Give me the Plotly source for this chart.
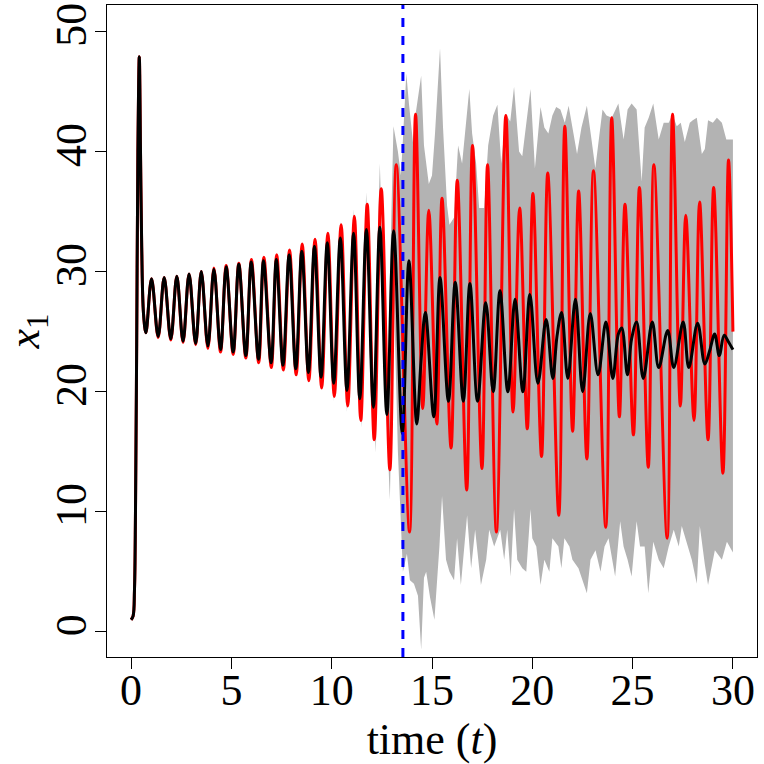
import plotly.graph_objects as go

# switch point (blue dashed line)
change_t = 13.55

# black line: peaks / troughs
black_t = [0.0, 0.1, 0.17, 0.22, 0.28, 0.34, 0.41, 0.47, 0.53, 0.62, 0.74,
           1.02, 1.35, 1.65, 1.98, 2.28, 2.59, 2.89, 3.22, 3.5, 3.83, 4.13, 4.46,
           4.74, 5.09, 5.37, 5.72, 5.99, 6.35, 6.6, 6.98, 7.24, 7.57, 7.88, 8.21,
           8.51, 8.84, 9.14, 9.47, 9.78, 10.1, 10.43, 10.76, 11.09, 11.4, 11.73,
           12.08, 12.4, 12.75, 13.09, 13.52, 13.85, 14.24, 14.45, 14.67, 15.09,
           15.4, 15.82, 16.16, 16.56, 16.89, 17.27, 17.68, 18.05, 18.39, 18.78,
           19.14, 19.53, 19.88, 20.28, 20.69, 21.02, 21.23, 21.46, 21.77, 22.15,
           22.51, 22.89, 23.28, 23.67, 24.01, 24.29, 24.46, 24.74, 24.95, 25.2,
           25.53, 25.98, 26.3, 26.75, 27.05, 27.52, 27.8, 28.24, 28.6, 28.84,
           29.09, 29.32, 29.56, 29.76, 30.0]
black_v = [1.0, 1.3, 3.5, 10, 24, 40, 47.9, 40, 32, 26.5, 24.9,
           29.4, 24.6, 29.5, 24.4, 29.6, 24.2, 29.8, 24.0, 30.0, 23.8, 30.2, 23.5,
           30.4, 23.3, 30.6, 23.0, 30.8, 22.7, 30.9, 22.4, 31.0, 22.2, 31.4, 21.9,
           31.7, 21.6, 32.1, 21.2, 32.4, 20.7, 32.8, 20.1, 33.2, 19.4, 33.5,
           18.7, 33.7, 18.1, 33.4, 16.5, 30.9, 17.3, 22.5, 26.6, 17.9,
           29.5, 19.2, 29.1, 19.2, 29.0, 19.2, 27.4, 20.0, 28.4, 20.0,
           27.7, 20.0, 28.1, 20.7, 26.0, 21.1, 24.6, 26.6, 21.1, 27.7,
           20.0, 26.5, 21.4, 25.8, 21.1, 24.8, 25.3, 21.4, 24.4, 25.8,
           21.1, 25.8, 22.0, 25.1, 22.0, 25.8, 22.0, 25.7, 22.3, 23.4,
           24.8, 23.0, 24.7, 24.2, 23.5]

# red line
red_t = [0.0, 0.1, 0.17, 0.22, 0.28, 0.34, 0.41, 0.47, 0.53, 0.62, 0.74,
         1.02, 1.35, 1.65, 1.98, 2.28, 2.59, 2.89, 3.22, 3.5, 3.83, 4.13, 4.46,
         4.74, 5.09, 5.37, 5.72, 6.0, 6.36, 6.62, 6.99, 7.26, 7.59, 7.9, 8.23,
         8.53, 8.86, 9.17, 9.5, 9.81, 10.13, 10.47, 10.8, 11.13, 11.45, 11.77,
         12.12, 12.47, 12.9, 13.22, 13.88, 14.18, 14.54, 14.84, 15.24, 15.5,
         15.95, 16.26, 16.73, 17.02, 17.49, 17.77, 18.21, 18.68, 19.04, 19.37,
         19.75, 20.03, 20.46, 20.77, 21.32, 21.62, 22.01, 22.31, 22.72, 23.05,
         23.66, 23.96, 24.34, 24.62, 25.04, 25.34, 25.78, 26.06, 26.72, 26.99,
         27.38, 27.65, 28.06, 28.34, 28.76, 29.04, 29.5, 29.78, 30.0]
red_v = [1.0, 1.3, 3.5, 10, 24, 40, 47.9, 40, 32, 26.5, 24.9,
         29.4, 24.5, 29.5, 24.3, 29.6, 24.1, 29.8, 23.9, 30.0, 23.6, 30.3, 23.3,
         30.5, 23.1, 30.7, 22.8, 31.0, 22.4, 31.2, 22.0, 31.4, 21.8, 31.8, 21.4,
         32.3, 20.9, 32.7, 20.3, 33.2, 19.6, 33.9, 18.8, 34.6, 17.6, 35.6,
         16.0, 36.9, 13.5, 38.9, 8.3, 43.1, 18.6, 35.1, 17.3, 36.1,
         15.3, 37.6, 11.8, 40.5, 13.6, 38.9, 8.3, 43.0, 18.3, 35.3,
         16.9, 36.5, 14.6, 38.2, 9.7, 42.1, 16.7, 36.7, 14.4, 38.4,
         8.7, 42.8, 17.9, 35.6, 16.4, 37.0, 13.7, 38.9, 7.8, 43.1,
         18.8, 34.7, 17.6, 35.8, 16.0, 37.0, 13.2, 39.3, 25.0]

# grey band: upper edge
band_up_t = [9.47, 9.8, 10.1, 10.45, 10.76, 11.1, 11.4, 11.72, 12.08, 12.4, 12.75,
             13.08, 13.3, 13.45, 13.55, 13.72, 13.85, 14.05, 14.2, 14.46, 14.6,
             14.84, 15.0, 15.15, 15.4, 15.55, 15.75, 15.87, 16.1, 16.3, 16.5,
             16.86, 17.0, 17.2, 17.35, 17.6, 17.8, 18.05, 18.26, 18.45, 18.68,
             18.9, 19.09, 19.34, 19.5, 19.91, 20.13, 20.41, 20.6, 20.8, 21.0,
             21.19, 21.4, 21.62, 21.81, 22.0, 22.23, 22.45, 22.72, 22.95, 23.14,
             23.5, 23.7, 23.96, 24.29, 24.55, 24.75, 24.95, 25.2, 25.45, 25.6,
             25.8, 26.03, 26.3, 26.55, 26.8, 26.99, 27.2, 27.4, 27.6, 27.85,
             28.0, 28.2, 28.45, 28.6, 28.76, 29.0, 29.2, 29.45, 29.67, 30.0]
band_up_v = [21.8, 33.3, 21.3, 34.2, 20.6, 35.2, 20.0, 36.6, 19.4, 39.0, 18.8,
             42.1, 40.0, 38.0, 41.0, 46.5, 44.0, 40.8, 43.3, 46.3, 40.5,
             37.3, 38.0, 41.5, 48.6, 42.0, 35.5, 33.9, 34.5, 40.5, 39.0,
             45.2, 41.5, 39.0, 35.3, 35.3, 40.5, 43.0, 43.9, 39.0, 43.1,
             42.5, 45.4, 40.0, 39.6, 45.2, 38.6, 43.7, 42.0, 41.5, 43.0,
             43.7, 43.5, 42.4, 43.8, 42.0, 39.8, 42.0, 43.8, 41.0, 38.6,
             43.5, 43.0, 42.8, 44.0, 41.0, 43.5, 44.0, 43.5, 37.5, 42.0,
             42.8, 44.0, 41.0, 42.4, 42.4, 43.1, 42.1, 42.4, 40.8, 42.4,
             42.6, 42.8, 39.8, 40.2, 42.6, 42.4, 42.8, 42.4, 41.0, 41.0]

# grey band: lower edge
band_lo_t = [9.47, 9.8, 10.1, 10.43, 10.76, 11.09, 11.5, 11.73, 12.2, 12.4, 12.9,
             13.1, 13.3, 13.55, 13.75, 13.9, 14.1, 14.3, 14.46, 14.6, 14.71,
             14.9, 15.12, 15.37, 15.5, 15.7, 15.87, 16.1, 16.25, 16.44, 16.75,
             16.95, 17.15, 17.44, 17.7, 17.85, 18.1, 18.4, 18.6, 18.75, 18.92,
             19.09, 19.25, 19.5, 19.7, 19.91, 20.0, 20.2, 20.41, 20.6, 20.85,
             21.0, 21.3, 21.45, 21.6, 21.85, 22.0, 22.3, 22.72, 22.9, 23.15,
             23.4, 23.6, 23.8, 24.0, 24.13, 24.38, 24.55, 24.75, 24.95, 25.2,
             25.37, 25.6, 25.78, 26.03, 26.3, 26.55, 26.8, 27.05, 27.3, 27.45,
             27.7, 27.95, 28.2, 28.35, 28.6, 28.76, 29.1, 29.45, 29.7, 30.0]
band_lo_v = [20.6, 32.0, 19.2, 32.3, 18.3, 32.4, 17.0, 32.5, 14.9, 32.0, 11.0,
             28.0, 15.0, 5.0, 6.5, 4.3, 4.0, 3.0, -1.5, 4.5, 5.0,
             2.9, 1.0, 7.1, 11.3, 6.0, 5.0, 4.3, 7.8, 3.9, 9.7,
             5.3, 8.5, 3.9, 6.0, 8.5, 7.1, 8.5, 6.0, 8.5, 4.6,
             10.2, 6.0, 5.3, 5.0, 10.2, 7.8, 7.1, 3.9, 6.0, 5.0,
             7.8, 7.1, 5.3, 7.8, 7.1, 6.0, 5.3, 3.2, 6.0, 6.8,
             5.0, 7.1, 7.8, 6.0, 4.6, 9.2, 7.1, 6.0, 4.6, 9.2,
             7.1, 7.1, 3.2, 7.5, 6.0, 5.3, 7.1, 8.5, 7.1, 8.8,
             7.5, 6.0, 4.0, 8.8, 5.6, 3.9, 6.8, 6.0, 7.5, 6.6]

FONT = "Liberation Serif"

fig = go.Figure()
fig.add_trace(go.Scatter(
    x=band_up_t + band_lo_t[::-1], y=band_up_v + band_lo_v[::-1],
    fill="toself", fillcolor="#b3b3b3", line=dict(width=0),
    mode="lines", hoverinfo="skip"))
fig.add_trace(go.Scatter(x=red_t, y=red_v, mode="lines",
                         line=dict(color="#ff0000", width=3, shape="spline", smoothing=1)))
fig.add_trace(go.Scatter(x=black_t, y=black_v, mode="lines",
                         line=dict(color="#000000", width=3, shape="spline", smoothing=1)))
fig.add_vline(x=change_t, line=dict(color="#0000ff", width=3, dash="dash"))

axis_common = dict(showline=True, mirror=True, linecolor="black", linewidth=1,
                   showgrid=False, zeroline=False, ticks="outside", ticklen=11,
                   tickcolor="black", automargin=False,
                   tickfont=dict(family=FONT, size=44, color="black"))
fig.update_xaxes(range=[-1.2, 31.2], tickvals=[0, 5, 10, 15, 20, 25, 30],
                 ticklabelstandoff=-17,
                 title=dict(text="time (<i>t</i>)", font=dict(family=FONT, size=44, color="black"),
                            standoff=0),
                 **axis_common)
fig.update_yaxes(range=[-2.1, 52.2], tickvals=[0, 10, 20, 30, 40, 50], tickangle=-90,
                 ticklabelstandoff=-9,
                 title=dict(text="<i>x</i><sub>1</sub>", font=dict(family=FONT, size=44, color="black"),
                            standoff=10),
                 **axis_common)
fig.update_layout(width=764, height=764, showlegend=False,
                  plot_bgcolor="white", paper_bgcolor="white",
                  margin=dict(l=107, r=7, t=5, b=107))
# page body has a default 8px margin; drop it so the figure sits at the window corner
fig.write_html("out.html", config={"displayModeBar": False},
               post_script="document.body.style.margin='0';")
